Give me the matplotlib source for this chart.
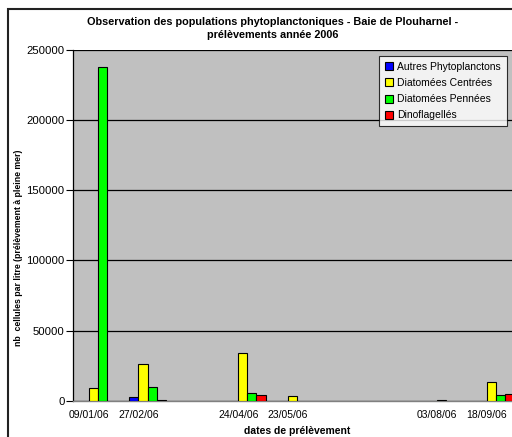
import numpy as np
import matplotlib
matplotlib.use("Agg")
import matplotlib.pyplot as plt
import matplotlib.transforms as mtransforms
from matplotlib.patches import Rectangle

plt.rcParams["font.family"] = ["Liberation Sans", "DejaVu Sans"]

# sampling dates and counts (cells per litre), nan = no bar
dates = ["09/01/06", "27/02/06", "24/04/06", "23/05/06", "03/08/06", "18/09/06"]
autres = [np.nan, 2700, np.nan, np.nan, np.nan, np.nan]
centrees = [9000, 26000, 34000, 3100, 600, 13000]
pennees = [238000, 9600, 5500, np.nan, np.nan, 3900]
dinos = [np.nan, 300, 3800, np.nan, np.nan, 4600]

series = [("Autres Phytoplanctons", autres, "#0000FF"),
          ("Diatomées Centrées", centrees, "#FFFF00"),
          ("Diatomées Pennées", pennees, "#00FF00"),
          ("Dinoflagellés", dinos, "#FF0000")]

# date axis with a monthly base unit
months = np.array([int(d[3:5]) - 1 for d in dates])

fig = plt.figure(figsize=(5.12, 4.37), dpi=100)
ax = fig.add_axes([73 / 512, 36.3 / 437, 447.8 / 512, 350.7 / 437])
ax.set_facecolor("#C0C0C0")

w = 0.187
for i, (name, vals, col) in enumerate(series):
    ax.bar(months + (i - 1.5) * w, np.array(vals, dtype=float), width=w,
           color=col, edgecolor="black", linewidth=0.8, label=name, zorder=3)

ax.set_xlim(-0.5, 8.5)
ax.set_ylim(0, 250000)
ax.set_yticks(np.arange(0, 250001, 50000))
ax.yaxis.grid(True, color="black", linewidth=0.9, zorder=1)
ax.set_axisbelow(True)

ax.set_xticks(months)
ax.set_xticklabels(dates, fontsize=7.5)
ax.tick_params(axis="x", length=0, pad=7)
ax.tick_params(axis="y", length=5, width=0.8, pad=1, labelsize=8.2, direction="out")
offset = mtransforms.ScaledTranslation(-9 / 100, 0, fig.dpi_scale_trans)
for lab in ax.get_xticklabels():
    lab.set_transform(lab.get_transform() + offset)

for s in ["top", "right"]:
    ax.spines[s].set_visible(False)
ax.spines["left"].set_color("black")
ax.spines["left"].set_linewidth(0.9)
ax.spines["bottom"].set_color("#808080")
ax.spines["bottom"].set_linewidth(1.0)

ax.set_xlabel("dates de prélèvement", fontsize=7.5, fontweight="bold")
ax.xaxis.set_label_coords(0.5, -0.073)
ax.set_ylabel("nb  cellules par litre (prélèvement à pleine mer)", fontsize=6.3, fontweight="bold")
ax.yaxis.set_label_coords(-0.112, 0.435)

leg = ax.legend(loc="upper right", bbox_to_anchor=(0.969, 0.983), borderaxespad=0,
                fontsize=7.5, frameon=True, fancybox=False, edgecolor="black",
                handlelength=0.8, handleheight=0.8, handletextpad=0.4,
                labelspacing=0.6, borderpad=0.55)
leg.get_frame().set_linewidth(0.8)
leg.get_frame().set_facecolor("white")
leg.set_zorder(5)

fig.text(273 / 512, 1 - 28.5 / 437,
         "Observation des populations phytoplanctoniques - Baie de Plouharnel -\nprélèvements année 2006",
         ha="center", va="center", fontsize=7.8, fontweight="bold", linespacing=1.35)

fig.patches.append(Rectangle((8 / 512, -0.1), 2, 1.1 - 9 / 437, transform=fig.transFigure,
                             fill=False, edgecolor="#222222", linewidth=1.5))

fig.savefig("out.png", dpi=100)
